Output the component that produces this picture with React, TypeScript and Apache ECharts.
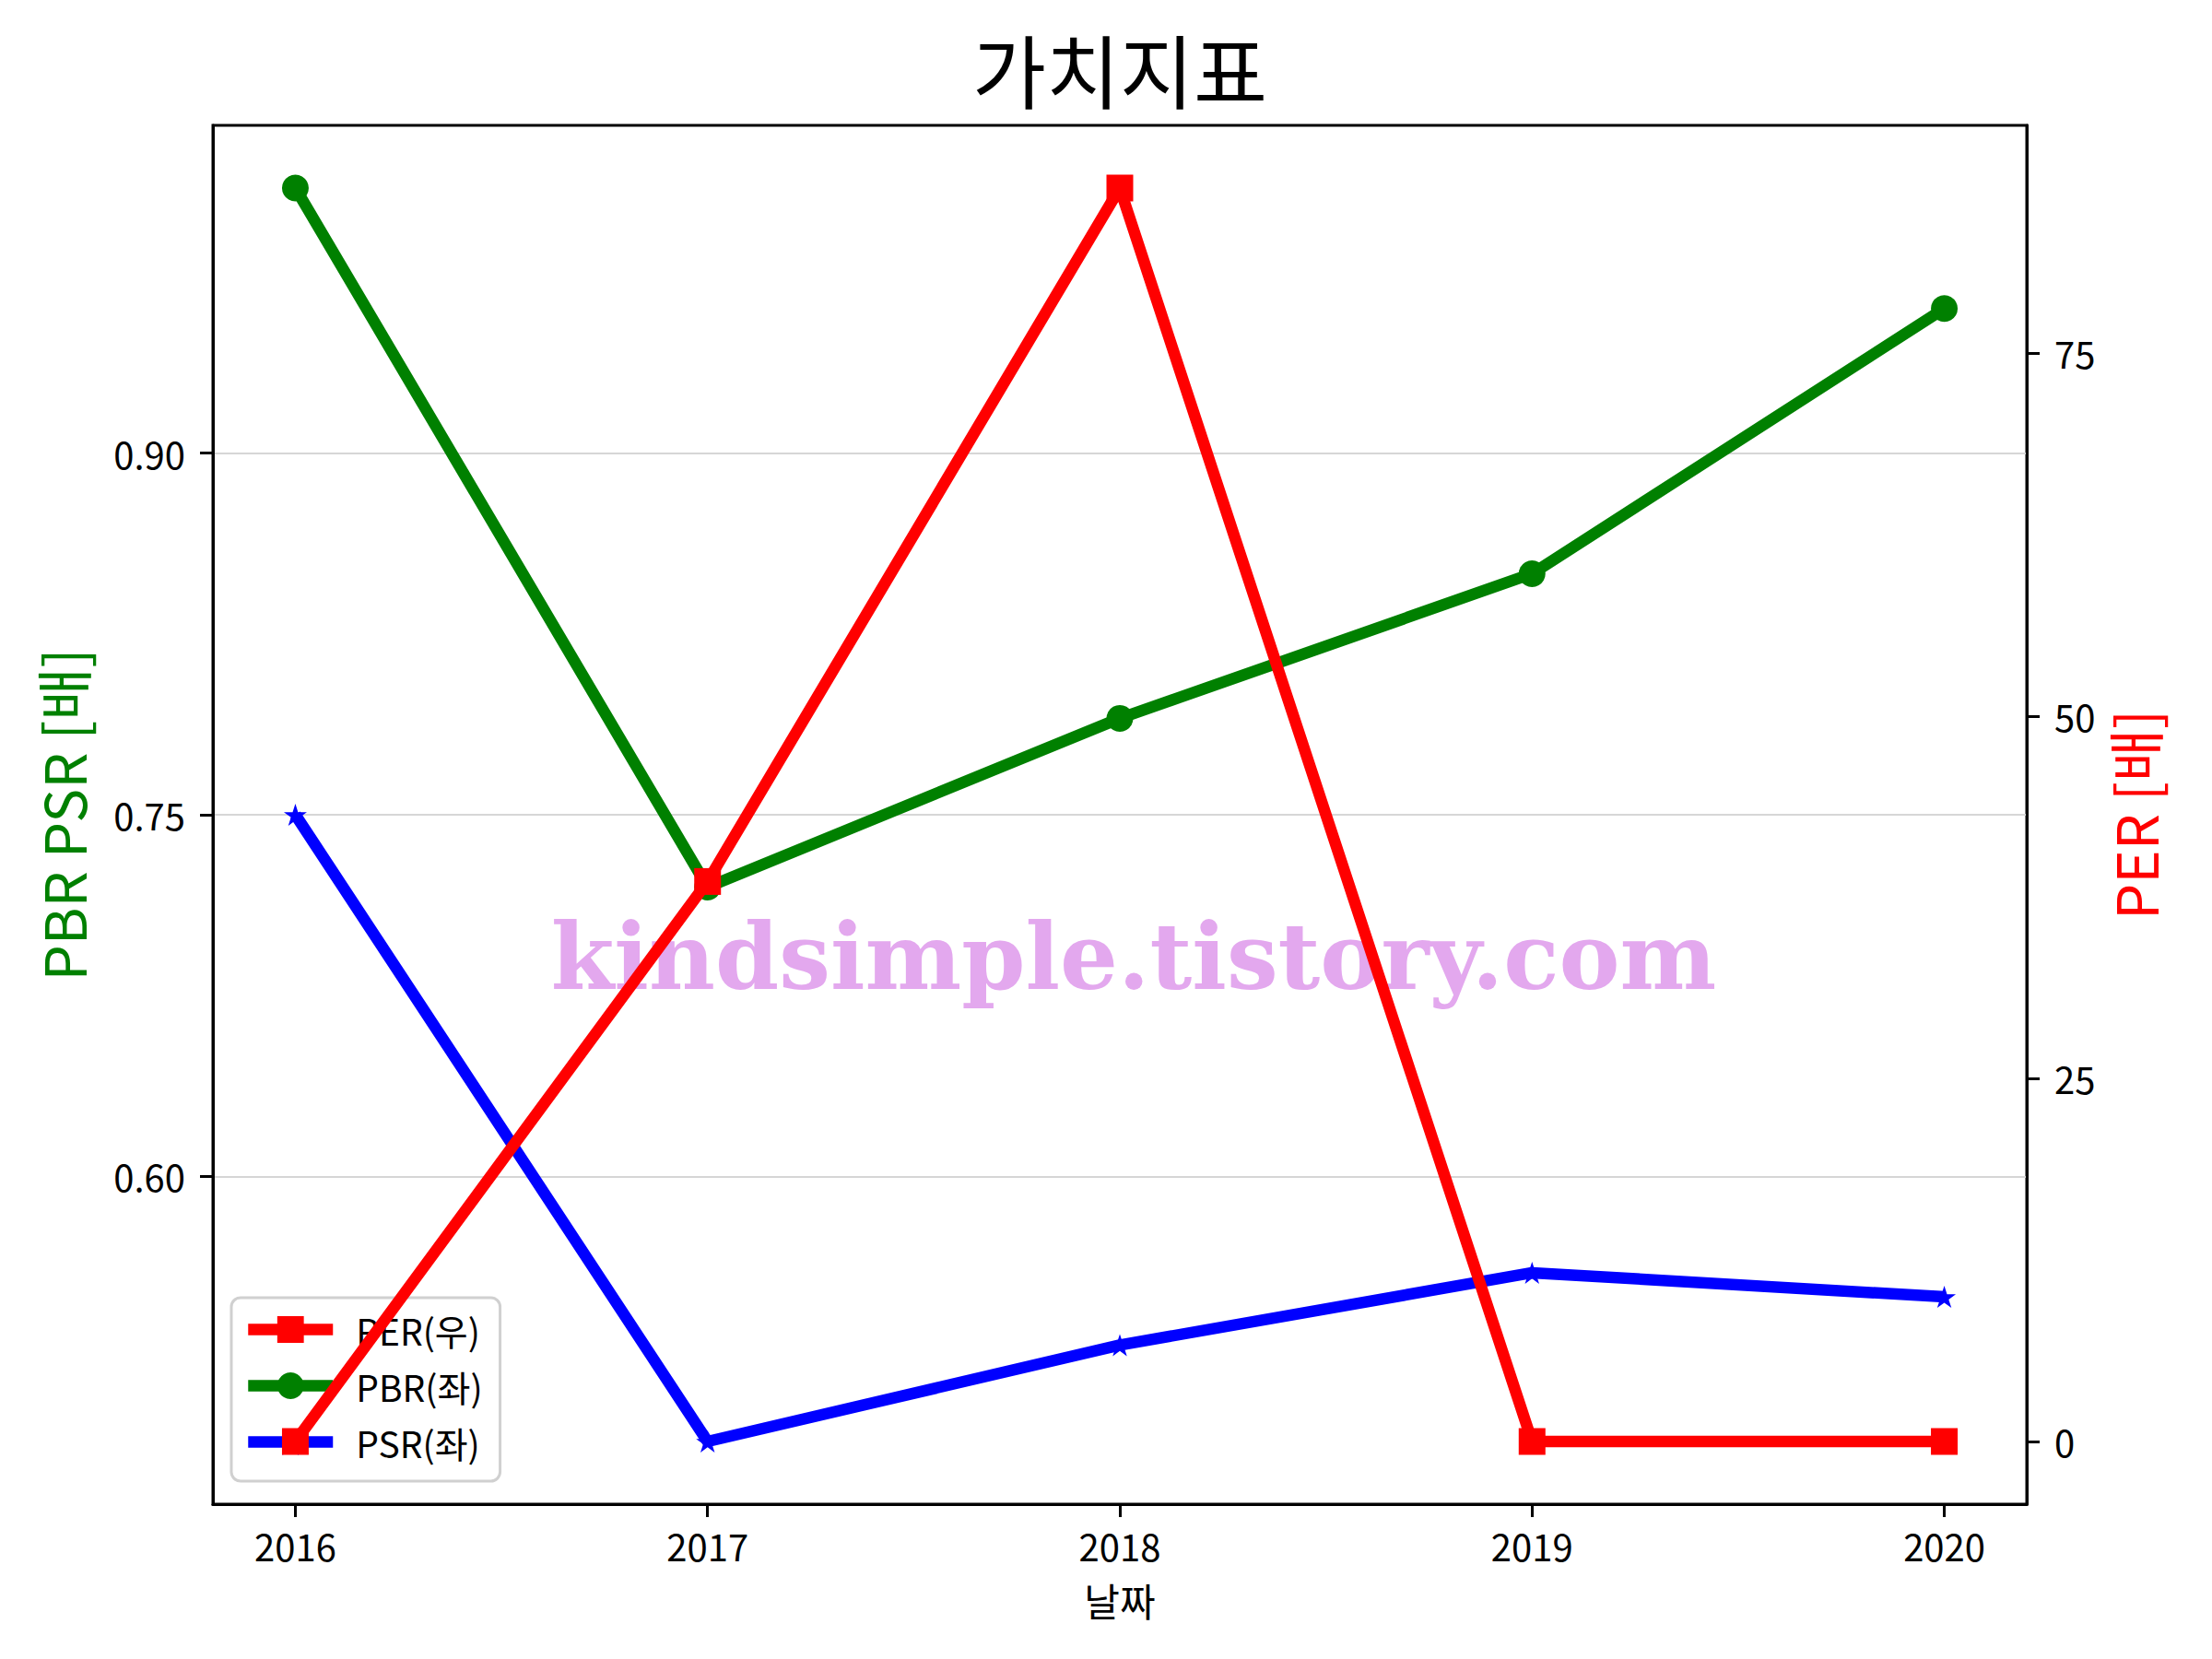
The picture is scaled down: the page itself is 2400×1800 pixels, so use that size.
import React, { useEffect, useRef } from "react";
import * as echarts from "echarts";

const years = [2016, 2017, 2018, 2019, 2020];
const perValues = [0, 38.6, 86.4, 0, 0];
const pbrValues = [1.01, 0.72, 0.79, 0.85, 0.96];
const psrValues = [0.75, 0.49, 0.53, 0.56, 0.55];
const leftTicks = [0.6, 0.75, 0.9];
const rightTicks = [0, 25, 50, 75];
const seriesNames = ["PER(우)", "PBR(좌)", "PSR(좌)"];

const STAR =
  "path://M0,-100 L22.45,-30.9 L95.11,-30.9 L36.33,11.8 L58.78,80.9 L0,38.2 L-58.78,80.9 L-36.33,11.8 L-95.11,-30.9 L-22.45,-30.9 Z";
const FONT = "'Noto Sans CJK KR', 'Noto Sans', sans-serif";

function margins(vals: number[]) {
  const lo = Math.min(...vals);
  const hi = Math.max(...vals);
  const m = (hi - lo) * 0.05;
  return [lo - m, hi + m];
}

export default function App() {
  const ref = useRef<HTMLDivElement>(null);
  useEffect(() => {
    document.body.style.margin = "0";
    const chart = echarts.init(ref.current!, undefined, { renderer: "svg" });
    const [lMin, lMax] = margins([...pbrValues, ...psrValues]);
    const [rMin, rMax] = margins(perValues);
    const xr = margins(years);
    const pair = (vals: number[]) => years.map((y, i) => [y, vals[i]]);
    const tickStyle = { show: true, length: 14, lineStyle: { color: "#000", width: 3 } };
    const lineStyle = { show: true, onZero: false, lineStyle: { color: "#000", width: 3 } };
    chart.setOption({
      animation: false,
      backgroundColor: "#fff",
      title: {
        text: "가치지표",
        left: 1215,
        top: 30,
        padding: 0,
        textAlign: "center",
        textStyle: { fontSize: 87, fontWeight: "normal", color: "#000", fontFamily: FONT },
      },
      grid: {
        left: 231,
        right: 201,
        top: 136,
        bottom: 168,
        show: true,
        borderColor: "#000",
        borderWidth: 3,
        backgroundColor: "transparent",
      },
      legend: {
        data: seriesNames,
        orient: "vertical",
        left: 251,
        top: 1408,
        padding: [15, 19, 23, 12],
        itemGap: 22,
        itemWidth: 92,
        itemHeight: 36,
        borderColor: "#d0d0d0",
        borderWidth: 3,
        borderRadius: 10,
        backgroundColor: "rgba(255,255,255,0.8)",
        lineStyle: { width: 12.5 },
        textStyle: { fontSize: 39, color: "#000", fontFamily: FONT, padding: [0, 0, 0, 20] },
      },
      xAxis: {
        type: "value",
        min: xr[0],
        max: xr[1],
        name: "날짜",
        nameLocation: "middle",
        nameGap: 82,
        nameTextStyle: { fontSize: 42, color: "#000", fontFamily: FONT },
        axisLine: lineStyle,
        axisTick: { ...tickStyle, customValues: years },
        axisLabel: {
          customValues: years,
          margin: 25,
          fontSize: 40,
          color: "#000",
          fontFamily: FONT,
          formatter: (v: number) => String(Math.round(v)),
        },
        splitLine: { show: false },
      },
      yAxis: [
        {
          type: "value",
          position: "left",
          min: lMin,
          max: lMax,
          name: "PBR PSR [배]",
          nameLocation: "middle",
          nameRotate: 90,
          nameGap: 133,
          nameTextStyle: { fontSize: 62, color: "#008000", fontFamily: FONT },
          axisLine: lineStyle,
          axisTick: { ...tickStyle, customValues: leftTicks },
          axisLabel: {
            customValues: leftTicks,
            margin: 30,
            fontSize: 40,
            color: "#000",
            fontFamily: FONT,
            formatter: (v: number) => v.toFixed(2),
          },
          splitLine: { show: true, lineStyle: { color: "#d6d6d6", width: 2 } },
        },
        {
          type: "value",
          position: "right",
          min: rMin,
          max: rMax,
          name: "PER [배]",
          nameLocation: "middle",
          nameRotate: 90,
          nameGap: 84,
          nameTextStyle: { fontSize: 62, color: "#ff0000", fontFamily: FONT },
          axisLine: lineStyle,
          axisTick: { ...tickStyle, customValues: rightTicks },
          axisLabel: {
            customValues: rightTicks,
            margin: 30,
            fontSize: 40,
            color: "#000",
            fontFamily: FONT,
            formatter: (v: number) => String(Math.round(v)),
          },
          splitLine: { show: false },
        },
      ],
      graphic: [
        {
          type: "text",
          x: 1230,
          y: 1038,
          z: 1,
          silent: true,
          style: {
            text: "kindsimple.tistory.com",
            fontSize: 99,
            fontWeight: "bold",
            fontFamily: "'DejaVu Serif', serif",
            fill: "#e3a8ee",
            align: "center",
            verticalAlign: "middle",
          },
        },
      ],
      series: [
        {
          name: seriesNames[1],
          type: "line",
          yAxisIndex: 0,
          data: pair(pbrValues),
          color: "#008000",
          lineStyle: { width: 12.5, color: "#008000" },
          symbol: "circle",
          symbolSize: 29,
          itemStyle: { color: "#008000" },
          z: 2,
        },
        {
          name: seriesNames[2],
          type: "line",
          yAxisIndex: 0,
          data: pair(psrValues),
          color: "#0000ff",
          lineStyle: { width: 12.5, color: "#0000ff" },
          symbol: STAR,
          symbolSize: [25, 24],
          itemStyle: { color: "#0000ff" },
          z: 2,
        },
        {
          name: seriesNames[0],
          type: "line",
          yAxisIndex: 1,
          data: pair(perValues),
          color: "#ff0000",
          lineStyle: { width: 12.5, color: "#ff0000" },
          symbol: "rect",
          symbolSize: 29,
          itemStyle: { color: "#ff0000" },
          z: 5,
        },
      ],
    });
    return () => chart.dispose();
  }, []);
  return <div ref={ref} style={{ width: 2400, height: 1800 }} />;
}
